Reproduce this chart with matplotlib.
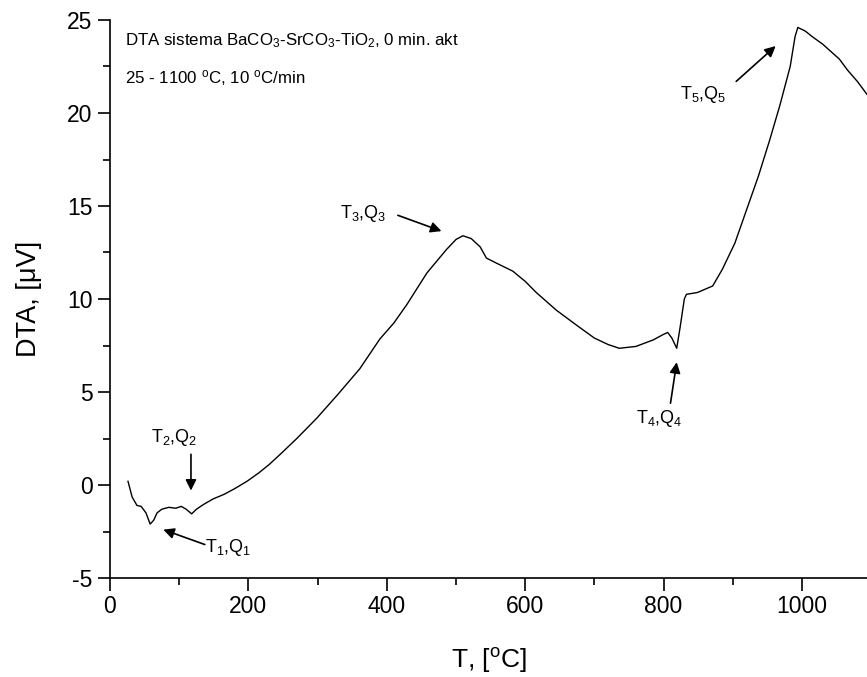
import numpy as np
import matplotlib
matplotlib.use("Agg")
import matplotlib.pyplot as plt
from matplotlib.ticker import MultipleLocator

plt.rcParams['font.family'] = ['Liberation Sans', 'DejaVu Sans']
plt.rcParams['mathtext.fontset'] = 'custom'
plt.rcParams['mathtext.rm'] = 'Liberation Sans'
plt.rcParams['mathtext.it'] = 'Liberation Sans:italic'
plt.rcParams['axes.unicode_minus'] = False

# DTA curve (T in degC, signal in uV)
temp = [26, 32, 39, 45, 52, 58, 63, 68, 75, 85, 95, 103, 110, 118, 125, 135,
        149, 165, 180, 198, 215, 230, 246, 270, 299, 330, 361, 390, 410, 429,
        458, 486, 500, 510, 522, 535, 544, 560, 582, 600, 616, 645, 674, 700,
        720, 736, 760, 785, 800, 806, 812, 819, 824, 830, 833, 849, 871, 885,
        903, 920, 937, 953, 968, 983, 990, 994, 1005, 1015, 1030, 1045, 1054,
        1066, 1080, 1094]
dta = [0.2, -0.65, -1.1, -1.15, -1.5, -2.1, -1.9, -1.5, -1.3, -1.2, -1.25, -1.15,
       -1.3, -1.55, -1.3, -1.05, -0.75, -0.5, -0.2, 0.2, 0.65, 1.1, 1.65, 2.5,
       3.6, 4.9, 6.25, 7.85, 8.7, 9.7, 11.4, 12.65, 13.2, 13.4, 13.25, 12.8,
       12.2, 11.9, 11.5, 10.95, 10.35, 9.4, 8.6, 7.9, 7.55, 7.35, 7.45, 7.8,
       8.1, 8.2, 7.9, 7.35, 8.5, 10.0, 10.25, 10.35, 10.7, 11.6, 13.0, 14.8,
       16.6, 18.5, 20.4, 22.5, 24.1, 24.6, 24.4, 24.1, 23.7, 23.2, 22.9, 22.3,
       21.7, 21.0]

# peak labels: text position, arrow tail, arrow head (data coords)
peak_labels = ['T$_1$,Q$_1$', 'T$_2$,Q$_2$', 'T$_3$,Q$_3$', 'T$_4$,Q$_4$', 'T$_5$,Q$_5$']
label_xy = [(170, -3.35), (92, 2.55), (366, 14.6), (794, 3.55), (857, 21.0)]
tail_xy = [(137, -3.2), (117, 1.65), (416, 14.5), (810, 4.4), (905, 21.7)]
head_xy = [(77, -2.4), (117, -0.3), (479, 13.65), (819, 6.6), (962, 23.6)]

fig = plt.figure(figsize=(8.67, 6.77), dpi=100)
ax = fig.add_axes([110 / 867, 1 - 578 / 677, 1 - 110 / 867, (578 - 20) / 677])

ax.plot(temp, dta, color='k', lw=1.0)

for lab, txy, a, b in zip(peak_labels, label_xy, tail_xy, head_xy):
    ax.text(txy[0], txy[1], lab, fontsize=13, ha='center', va='center')
    ax.annotate('', xy=b, xytext=a,
                arrowprops=dict(arrowstyle='-|>', color='k', lw=1.2,
                                mutation_scale=16, shrinkA=0, shrinkB=0))

ax.text(21, 23.9, 'DTA sistema BaCO$_3$-SrCO$_3$-TiO$_2$, 0 min. akt',
        fontsize=12.2, ha='left', va='center')
ax.text(21, 21.9, '25 - 1100 $^{\\mathrm{o}}$C, 10 $^{\\mathrm{o}}$C/min',
        fontsize=12.2, ha='left', va='center')

ax.set_xlim(0, 1094)
ax.set_ylim(-5, 25)
ax.xaxis.set_major_locator(MultipleLocator(200))
ax.xaxis.set_minor_locator(MultipleLocator(100))
ax.yaxis.set_major_locator(MultipleLocator(5))
ax.yaxis.set_minor_locator(MultipleLocator(2.5))
ax.tick_params(which='major', direction='out', length=9, width=1.2, labelsize=16.5)
ax.tick_params(which='minor', direction='out', length=5, width=1.2)
for s in ['top', 'right']:
    ax.spines[s].set_visible(False)
for s in ['left', 'bottom']:
    ax.spines[s].set_linewidth(1.2)

ax.set_xlabel('T, [$^{\\mathrm{o}}$C]', fontsize=19, labelpad=20)
ax.set_ylabel('DTA, [\u03bcV]', fontsize=19.5, labelpad=18)

fig.savefig('out.png', dpi=100)
